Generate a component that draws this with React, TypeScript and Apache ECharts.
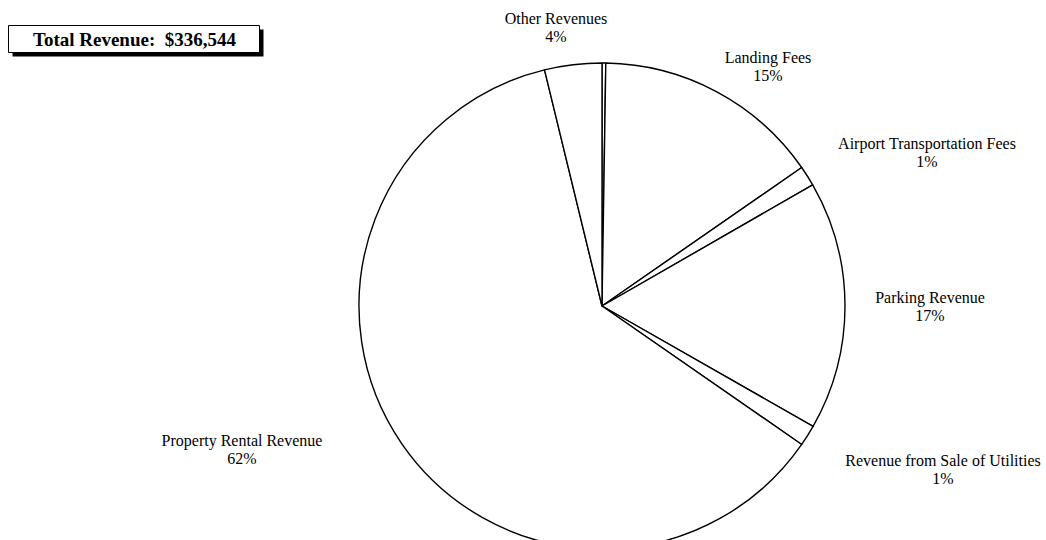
import React, { useEffect, useRef } from "react";
import * as echarts from "echarts";

// ---- data ----
const CATEGORIES = [
  "Miscellaneous",
  "Landing Fees",
  "Airport Transportation Fees",
  "Parking Revenue",
  "Revenue from Sale of Utilities",
  "Property Rental Revenue",
  "Other Revenues",
];
const VALUES = [841, 50818, 4543, 55698, 4712, 207143, 12789];
const SHOW_LABEL = [false, true, true, true, true, true, true];
const TITLE_PREFIX = "Total Revenue:";

// ---- layout ----
const CENTER = [602, 306];
const RADIUS = 243;
const LABEL_CENTERS: (number[] | null)[] = [
  null,
  [768, 66],
  [927, 152],
  [930, 306],
  [943, 469],
  [242, 449],
  [556, 27],
];
const FONT = "'Liberation Serif', 'Times New Roman', serif";

export default function App() {
  const ref = useRef<HTMLDivElement>(null);

  useEffect(() => {
    if (!ref.current) return;
    const chart = echarts.init(ref.current, undefined, { renderer: "svg" });
    const total = VALUES.reduce((a, b) => a + b, 0);
    const titleText = `${TITLE_PREFIX}  $${total.toLocaleString("en-US")}`;

    chart.setOption({
      animation: false,
      backgroundColor: "#ffffff",
      graphic: [
        {
          type: "group",
          left: 8,
          top: 25,
          children: [
            {
              type: "rect",
              shape: { x: 4, y: 4, width: 251, height: 27 },
              style: { fill: "#000" },
            },
            {
              type: "rect",
              shape: { x: 0, y: 0, width: 251, height: 27 },
              style: { fill: "#fff", stroke: "#000", lineWidth: 1 },
            },
            {
              type: "text",
              x: 126,
              y: 14,
              style: {
                text: titleText,
                font: `bold 19px ${FONT}`,
                fill: "#000",
                align: "center",
                verticalAlign: "middle",
              },
            },
          ],
        },
      ],
      series: [
        {
          type: "pie",
          center: CENTER,
          radius: RADIUS,
          startAngle: 90,
          clockwise: true,
          percentPrecision: 0,
          avoidLabelOverlap: false,
          silent: true,
          itemStyle: {
            color: "#ffffff",
            borderColor: "#000000",
            borderWidth: 1.4,
          },
          emphasis: { disabled: true },
          label: {
            show: true,
            position: "outside",
            formatter: "{b}\n{d}%",
            fontFamily: FONT,
            fontSize: 16,
            lineHeight: 18,
            color: "#000",
            align: "center",
          },
          labelLine: { show: false },
          labelLayout: (params: any) => {
            const p = LABEL_CENTERS[params.dataIndex];
            if (!p) return {};
            return { x: p[0], y: p[1], align: "center", verticalAlign: "middle" };
          },
          data: CATEGORIES.map((name, i) => ({
            name,
            value: VALUES[i],
            label: { show: SHOW_LABEL[i] },
          })),
        },
      ],
    });

    return () => chart.dispose();
  }, []);

  return (
    <div
      ref={ref}
      style={{ position: "absolute", left: 0, top: 0, width: 1046, height: 540, background: "#fff" }}
    />
  );
}
